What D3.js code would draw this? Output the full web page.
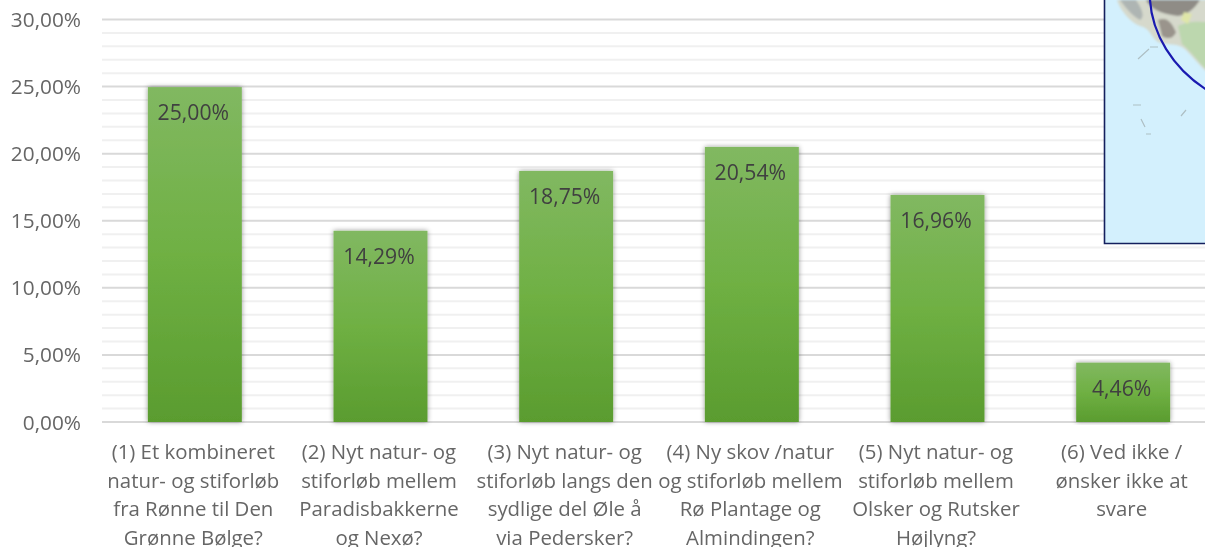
<!DOCTYPE html>
<html><head><meta charset="utf-8">
<script src="https://cdn.jsdelivr.net/npm/d3@7"></script>
<style>html,body{margin:0;padding:0;background:#fff;overflow:hidden}svg{display:block}text{font-family:"Open Sans",sans-serif}</style>
</head><body><svg id="c" width="1205" height="547"></svg>
<script>
const categories=[
 ["(1) Et kombineret","natur- og stiforløb","fra Rønne til Den","Grønne Bølge?"],
 ["(2) Nyt natur- og","stiforløb mellem","Paradisbakkerne","og Nexø?"],
 ["(3) Nyt natur- og","stiforløb langs den","sydlige del Øle å","via Pedersker?"],
 ["(4) Ny skov /natur","og stiforløb mellem","Rø Plantage og","Almindingen?"],
 ["(5) Nyt natur- og","stiforløb mellem","Olsker og Rutsker","Højlyng?"],
 ["(6) Ved ikke /","ønsker ikke at","svare"]];
const values=[25.00,14.29,18.75,20.54,16.96,4.46];
const majorTicks=[0,5,10,15,20,25,30];
const minorTicks=[1,2,3,4,6,7,8,9,11,12,13,14,16,17,18,19,21,22,23,24,26,27,28,29];
const fmt=v=>v.toFixed(2).replace(".",",")+"%";

const svg=d3.select("#c");
const y=d3.scaleLinear().domain([0,30]).range([422,19.5]);
const x=d3.scaleBand().domain(d3.range(values.length)).range([102,1216]).paddingInner(0.494).paddingOuter(0.247);

const defs=svg.append("defs");
const g=defs.append("linearGradient").attr("id","bar").attr("x1",0).attr("x2",0).attr("y1",0).attr("y2",1);
[[0,"#81b861"],[0.5,"#6fb043"],[1,"#5a9c2f"]].forEach(s=>g.append("stop").attr("offset",s[0]).attr("stop-color",s[1]));
const sh=defs.append("filter").attr("id","sh").attr("x","-20%").attr("y","-5%").attr("width","140%").attr("height","110%");
sh.append("feDropShadow").attr("dx",0).attr("dy",0).attr("stdDeviation",2.4).attr("flood-color","#000").attr("flood-opacity",0.42);
defs.append("filter").attr("id","soft").append("feGaussianBlur").attr("stdDeviation",0.4);
defs.append("filter").attr("id","mapblur").append("feGaussianBlur").attr("stdDeviation",1.3);
defs.append("clipPath").attr("id","mapclip").append("rect").attr("x",1105).attr("y",0).attr("width",100).attr("height",243);

svg.append("g").selectAll("line").data(minorTicks).join("line")
 .attr("x1",102).attr("x2",1205).attr("y1",d=>y(d)).attr("y2",d=>y(d)).attr("stroke","#f0f0f0").attr("stroke-width",2);
svg.append("g").selectAll("line").data(majorTicks).join("line")
 .attr("x1",102).attr("x2",1205).attr("y1",d=>y(d)).attr("y2",d=>y(d)).attr("stroke","#d9d9d9").attr("stroke-width",2);

svg.append("g").attr("filter","url(#soft)").selectAll("text").data(majorTicks).join("text")
 .attr("x",81).attr("y",d=>y(d)+7.5).attr("text-anchor","end").attr("font-size",20.8).attr("fill","#666").text(d=>fmt(d));

svg.append("g").selectAll("rect").data(values).join("rect")
 .attr("x",(d,i)=>x(i)).attr("y",d=>y(d)+0.5).attr("width",x.bandwidth()).attr("height",d=>y(0)-y(d)-0.5)
 .attr("fill","url(#bar)").attr("filter","url(#sh)");

svg.append("g").attr("filter","url(#soft)").selectAll("text").data(values).join("text")
 .attr("x",(d,i)=>x(i)+x.bandwidth()/2-1.5).attr("y",d=>y(d)+33.5).attr("text-anchor","middle")
 .attr("font-size",21.2).attr("fill","#404040").text(d=>fmt(d));

const lab=svg.append("g").attr("filter","url(#soft)").selectAll("text").data(categories).join("text")
 .attr("text-anchor","middle").attr("font-size",20.4).attr("fill","#666");
lab.each(function(lines,i){
 d3.select(this).selectAll("tspan").data(lines).join("tspan")
  .attr("x",x(i)+x.bandwidth()/2-1.5).attr("y",(d,j)=>459+j*28.6).text(d=>d);
});

// inset map fragment
const m=svg.append("g");
m.append("rect").attr("x",1105).attr("y",-2).attr("width",102).attr("height",245).attr("fill","#d3f0fd");
const mg=m.append("g").attr("clip-path","url(#mapclip)");
const land=mg.append("g").attr("filter","url(#mapblur)");
land.append("path").attr("d","M1117,0 C1120,10 1130,22 1140,26 C1150,28 1150,36 1158,42 C1168,46 1178,42 1186,50 C1194,58 1200,66 1207,72 L1207,0 Z").attr("fill","#d6d9cc");
land.append("path").attr("d","M1178,26 C1190,20 1200,22 1207,22 V70 C1198,62 1190,50 1182,44 Z").attr("fill","#bcd7ae");
land.append("path").attr("d","M1146,0 C1150,8 1160,14 1178,16 C1190,14 1196,6 1200,0 Z").attr("fill","#8f8c86");
land.append("path").attr("d","M1158,20 C1168,16 1172,24 1176,32 C1174,38 1168,40 1162,36 Z").attr("fill","#9a948c");
land.append("path").attr("d","M1120,0 C1126,8 1132,16 1140,20 C1146,16 1140,6 1136,0 Z").attr("fill","#aeb5b3");
land.append("path").attr("d","M1184,12 L1192,14 L1188,24 L1181,20 Z").attr("fill","#dfe6a8");
mg.append("path").attr("d","M1138,59 L1149,49 M1150,47 L1158,47 M1133,105 L1141,105 M1141,119 L1145,127 M1146,134 L1151,134 M1186,110 L1181,116").attr("fill","none").attr("stroke","#aebfc4").attr("stroke-width",1.2).attr("filter","url(#soft)");
mg.append("path").attr("d","M1150,0 C1152,33 1172,68 1207,90").attr("fill","none").attr("stroke","#1a1ab0").attr("stroke-width",2.2);
m.append("path").attr("d","M1104.5,-2 V243.5 H1207").attr("fill","none").attr("stroke","#14205e").attr("stroke-width",1.6);
</script></body></html>
